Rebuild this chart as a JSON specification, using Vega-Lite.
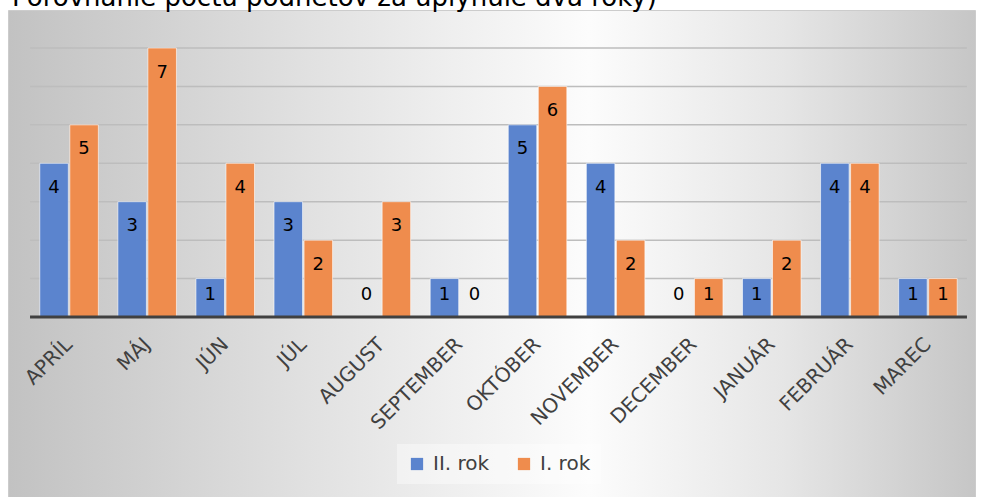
{
  "$schema": "https://vega.github.io/schema/vega-lite/v6.json",
  "autosize": {"type": "fit", "contains": "padding"},
  "padding": {"left": 8, "top": -15, "right": 9, "bottom": 0},
  "width": 984,
  "height": 497,
  "background": "#ffffff",
  "title": {
    "text": "Porovnanie počtu podnetov za uplynulé dva roky)",
    "anchor": "start",
    "frame": "group",
    "orient": "top",
    "offset": -1,
    "dx": 4,
    "fontSize": 26,
    "font": "DejaVu Sans",
    "fontWeight": "normal",
    "color": "#000000"
  },
  "view": {
    "stroke": "#cccccc",
    "strokeWidth": 1,
    "fill": {
      "gradient": "linear",
      "x1": 0, "y1": 0.5, "x2": 1, "y2": 0.5,
      "stops": [
        {"offset": 0, "color": "#c2c2c2"},
        {"offset": 0.3, "color": "#e0e0e0"},
        {"offset": 0.6, "color": "#fcfcfc"},
        {"offset": 0.8, "color": "#e6e6e6"},
        {"offset": 1, "color": "#c6c6c6"}
      ]
    }
  },
  "datasets": {
    "bars": [
      {"month": "APRÍL", "rok": "II. rok", "n": 4},
      {"month": "APRÍL", "rok": "I. rok", "n": 5},
      {"month": "MÁJ", "rok": "II. rok", "n": 3},
      {"month": "MÁJ", "rok": "I. rok", "n": 7},
      {"month": "JÚN", "rok": "II. rok", "n": 1},
      {"month": "JÚN", "rok": "I. rok", "n": 4},
      {"month": "JÚL", "rok": "II. rok", "n": 3},
      {"month": "JÚL", "rok": "I. rok", "n": 2},
      {"month": "AUGUST", "rok": "II. rok", "n": 0},
      {"month": "AUGUST", "rok": "I. rok", "n": 3},
      {"month": "SEPTEMBER", "rok": "II. rok", "n": 1},
      {"month": "SEPTEMBER", "rok": "I. rok", "n": 0},
      {"month": "OKTÓBER", "rok": "II. rok", "n": 5},
      {"month": "OKTÓBER", "rok": "I. rok", "n": 6},
      {"month": "NOVEMBER", "rok": "II. rok", "n": 4},
      {"month": "NOVEMBER", "rok": "I. rok", "n": 2},
      {"month": "DECEMBER", "rok": "II. rok", "n": 0},
      {"month": "DECEMBER", "rok": "I. rok", "n": 1},
      {"month": "JANUÁR", "rok": "II. rok", "n": 1},
      {"month": "JANUÁR", "rok": "I. rok", "n": 2},
      {"month": "FEBRUÁR", "rok": "II. rok", "n": 4},
      {"month": "FEBRUÁR", "rok": "I. rok", "n": 4},
      {"month": "MAREC", "rok": "II. rok", "n": 1},
      {"month": "MAREC", "rok": "I. rok", "n": 1}
    ],
    "grid": [
      {"g": 1}, {"g": 2}, {"g": 3}, {"g": 4}, {"g": 5}, {"g": 6}, {"g": 7}
    ]
  },
  "encoding": {
    "x": {
      "field": "month",
      "type": "nominal",
      "scale": {
        "domain": ["APRÍL", "MÁJ", "JÚN", "JÚL", "AUGUST", "SEPTEMBER", "OKTÓBER", "NOVEMBER", "DECEMBER", "JANUÁR", "FEBRUÁR", "MAREC"],
        "paddingInner": 0,
        "paddingOuter": 0.1925,
        "align": 0.733
      },
      "axis": {
        "orient": "bottom",
        "offset": -180,
        "title": null,
        "domain": false,
        "ticks": false,
        "grid": false,
        "labelAngle": -45,
        "labelAlign": "right",
        "labelBaseline": "middle",
        "labelPadding": 24,
        "labelFont": "DejaVu Sans",
        "labelFontSize": 20,
        "labelColor": "#404040",
        "labelOverlap": false,
        "labelBound": false
      }
    }
  },
  "layer": [
    {
      "data": {"name": "grid"},
      "mark": {"type": "rule", "color": "#bdbdbd", "strokeWidth": 1.5},
      "encoding": {
        "y": {"field": "g", "type": "quantitative", "scale": {"domain": [-4.684, 7.989], "nice": false, "zero": false}, "axis": null},
        "x": {"datum": "APRÍL", "bandPosition": 0},
        "x2": {"datum": "MAREC", "bandPosition": 1}
      }
    },
    {
      "data": {"name": "bars"},
      "mark": {"type": "bar", "stroke": "#ffffff", "strokeWidth": 1, "strokeOpacity": 0.6},
      "encoding": {
        "y": {"field": "n", "type": "quantitative"},
        "xOffset": {"field": "rok", "type": "nominal", "scale": {"domain": ["II. rok", "I. rok"], "paddingInner": 0.05, "paddingOuter": 0.325}},
        "color": {
          "field": "rok",
          "type": "nominal",
          "scale": {"domain": ["II. rok", "I. rok"], "range": ["#5B84CE", "#EF8C4D"]},
          "legend": {
            "title": null,
            "orient": "none",
            "legendX": 389,
            "legendY": 434,
            "direction": "horizontal",
            "fillColor": "rgba(255,255,255,0.4)",
            "padding": 10,
            "symbolType": "square",
            "symbolSize": 150,
            "symbolStrokeWidth": 0,
            "labelFont": "DejaVu Sans",
            "labelFontSize": 20,
            "labelColor": "#404040",
            "columnPadding": 24,
            "labelOffset": 6
          }
        }
      }
    },
    {
      "data": {"values": [{"b": 0}]},
      "mark": {"type": "rule", "color": "#404040", "strokeWidth": 3},
      "encoding": {
        "y": {"field": "b", "type": "quantitative"},
        "x": {"datum": "APRÍL", "bandPosition": 0},
        "x2": {"datum": "MAREC", "bandPosition": 1}
      }
    },
    {
      "data": {"name": "bars"},
      "transform": [{"filter": "datum.n >= 2"}],
      "mark": {"type": "text", "baseline": "middle", "dy": 24.5, "font": "DejaVu Sans", "fontSize": 18, "color": "#000000"},
      "encoding": {
        "y": {"field": "n", "type": "quantitative"},
        "xOffset": {"field": "rok", "type": "nominal"},
        "text": {"field": "n", "type": "quantitative"}
      }
    },
    {
      "data": {"name": "bars"},
      "transform": [{"filter": "datum.n == 1"}],
      "mark": {"type": "text", "baseline": "middle", "dy": 16, "font": "DejaVu Sans", "fontSize": 18, "color": "#000000"},
      "encoding": {
        "y": {"field": "n", "type": "quantitative"},
        "xOffset": {"field": "rok", "type": "nominal"},
        "text": {"field": "n", "type": "quantitative"}
      }
    },
    {
      "data": {"name": "bars"},
      "transform": [{"filter": "datum.n == 0"}],
      "mark": {"type": "text", "baseline": "middle", "dy": -22, "font": "DejaVu Sans", "fontSize": 18, "color": "#000000"},
      "encoding": {
        "y": {"field": "n", "type": "quantitative"},
        "xOffset": {"field": "rok", "type": "nominal"},
        "text": {"field": "n", "type": "quantitative"}
      }
    }
  ]
}
